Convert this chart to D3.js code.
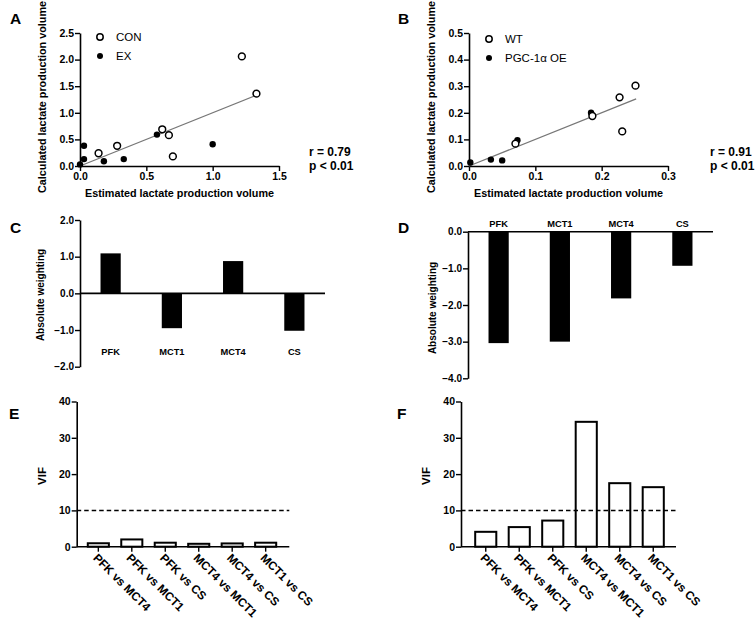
<!DOCTYPE html>
<html>
<head>
<meta charset="utf-8">
<script src="https://cdn.jsdelivr.net/npm/d3@7"></script>
<style>
  body { margin: 0; background: #fff; }
  svg { display: block; font-family: "Liberation Sans", Arial, sans-serif; }
  text { fill: #000; }
</style>
</head>
<body>
<svg id="fig" width="756" height="621"></svg>
<script>
// ---------- DATA ----------
// Panel A
const conA_x = [0.14, 0.28, 0.62, 0.67, 0.70, 1.22, 1.33];
const conA_y = [0.24, 0.38, 0.69, 0.58, 0.18, 2.06, 1.36];
const exA_x  = [0.00, 0.03, 0.03, 0.18, 0.33, 0.58, 1.00];
const exA_y  = [0.03, 0.38, 0.13, 0.09, 0.13, 0.59, 0.41];
const fitA_x = [0.0, 1.33];
const fitA_y = [0.0, 1.33];
const xTicksA = [0, 0.5, 1.0, 1.5];
const yTicksA = [0, 0.5, 1.0, 1.5, 2.0, 2.5];
// Panel B
const wtB_x  = [0.070, 0.186, 0.227, 0.231, 0.251];
const wtB_y  = [0.084, 0.188, 0.258, 0.130, 0.302];
const oeB_x  = [0.002, 0.033, 0.050, 0.073, 0.184];
const oeB_y  = [0.013, 0.024, 0.021, 0.097, 0.200];
const fitB_x = [0.0, 0.252];
const fitB_y = [0.0, 0.252];
const xTicksB = [0, 0.1, 0.2, 0.3];
const yTicksB = [0, 0.1, 0.2, 0.3, 0.4, 0.5];
// Panels C & D
const genes = ["PFK", "MCT1", "MCT4", "CS"];
const weightC = [1.09, -0.95, 0.88, -1.02];
const weightD = [-3.04, -3.00, -1.82, -0.93];
const yTicksC = [-2, -1, 0, 1, 2];
const yTicksD = [-4, -3, -2, -1, 0];
// Panels E & F
const pairs = ["PFK vs MCT4", "PFK vs MCT1", "PFK vs CS", "MCT4 vs MCT1", "MCT4 vs CS", "MCT1 vs CS"];
const vifE = [0.95, 2.0, 1.1, 0.8, 0.9, 1.1];
const vifF = [4.1, 5.4, 7.2, 34.4, 17.5, 16.4];
const yTicksEF = [0, 10, 20, 30, 40];
const vifThreshold = 10;

// ---------- DRAW ----------
const svg = d3.select("#fig");
const TICK_FONT = 10.5;
const TITLE_FONT = 10.8;

function letter(x, y, t) {
  svg.append("text").attr("x", x).attr("y", y).attr("font-size", 15.5)
    .attr("font-weight", "bold").text(t);
}

function styleAxis(g, fs) {
  g.selectAll("path.domain").attr("stroke", "#000").attr("stroke-width", 1.6);
  g.selectAll(".tick line").attr("stroke", "#000").attr("stroke-width", 1.4);
  g.selectAll(".tick text").attr("font-size", fs || TICK_FONT).attr("font-weight", "bold")
    .attr("font-family", "Liberation Sans, Arial, sans-serif").attr("fill", "#000");
}

function scatterPanel(cfg) {
  const x = d3.scaleLinear().domain(cfg.xdom).range([cfg.x0, cfg.x1]);
  const y = d3.scaleLinear().domain(cfg.ydom).range([cfg.y0, cfg.y1]);
  const gx = svg.append("g").attr("transform", `translate(0,${cfg.y0})`)
    .call(d3.axisBottom(x).tickValues(cfg.xt).tickFormat(cfg.xf).tickSize(5).tickSizeOuter(0).tickPadding(2));
  styleAxis(gx);
  const gy = svg.append("g").attr("transform", `translate(${cfg.x0},0)`)
    .call(d3.axisLeft(y).tickValues(cfg.yt).tickFormat(cfg.yf).tickSize(5).tickSizeOuter(0).tickPadding(1));
  styleAxis(gy);
  // fit line
  svg.append("line")
    .attr("x1", x(cfg.fitx[0])).attr("y1", y(cfg.fity[0]))
    .attr("x2", x(cfg.fitx[1])).attr("y2", y(cfg.fity[1]))
    .attr("stroke", "#777").attr("stroke-width", 1.3);
  // filled points
  cfg.fx.forEach((v, i) => {
    svg.append("circle").attr("cx", x(v)).attr("cy", y(cfg.fy[i])).attr("r", 3.2).attr("fill", "#000");
  });
  cfg.ox.forEach((v, i) => {
    svg.append("circle").attr("cx", x(v)).attr("cy", y(cfg.oy[i])).attr("r", 3.4)
      .attr("fill", "#fff").attr("stroke", "#000").attr("stroke-width", 1.5);
  });
  // legend
  const lx = cfg.x0 + 20;
  svg.append("circle").attr("cx", lx).attr("cy", cfg.legY).attr("r", 3.2)
    .attr("fill", "#fff").attr("stroke", "#000").attr("stroke-width", 1.5);
  svg.append("text").attr("x", lx + 16).attr("y", cfg.legY + 4).attr("font-size", 11.5).text(cfg.leg[0]);
  svg.append("circle").attr("cx", lx).attr("cy", cfg.legY + 19).attr("r", 3)
    .attr("fill", "#000");
  svg.append("text").attr("x", lx + 16).attr("y", cfg.legY + 23).attr("font-size", 11.5).text(cfg.leg[1]);
  // titles
  svg.append("text").attr("x", (cfg.x0 + cfg.x1) / 2).attr("y", cfg.y0 + 31)
    .attr("text-anchor", "middle").attr("font-size", TITLE_FONT).attr("font-weight", "bold")
    .text("Estimated lactate production volume");
  svg.append("text").attr("transform", `translate(${cfg.x0 - 34},${cfg.ytCy}) rotate(-90)`)
    .attr("text-anchor", "middle").attr("font-size", TITLE_FONT).attr("font-weight", "bold")
    .text("Calculated lactate production volume");
  // stats
  svg.append("text").attr("x", cfg.statX).attr("y", cfg.y0 - 10).attr("font-size", 12)
    .attr("font-weight", "bold").text(cfg.stats[0]);
  svg.append("text").attr("x", cfg.statX).attr("y", cfg.y0 + 4).attr("font-size", 12)
    .attr("font-weight", "bold").text(cfg.stats[1]);
}

letter(10, 24, "A");
scatterPanel({
  x0: 80, x1: 279, y0: 166, y1: 33, xdom: [0, 1.5], ydom: [0, 2.5],
  xt: xTicksA, yt: yTicksA, xf: d3.format(".1f"), yf: d3.format(".1f"),
  fitx: fitA_x, fity: fitA_y, ox: conA_x, oy: conA_y, fx: exA_x, fy: exA_y,
  leg: ["CON", "EX"], legY: 37, ytCy: 97, statX: 309,
  stats: ["r = 0.79", "p < 0.01"]
});

letter(398, 24, "B");
scatterPanel({
  x0: 469, x1: 668, y0: 166, y1: 33, xdom: [0, 0.3], ydom: [0, 0.5],
  xt: xTicksB, yt: yTicksB, xf: d3.format(".1f"), yf: d3.format(".1f"),
  fitx: fitB_x, fity: fitB_y, ox: wtB_x, oy: wtB_y, fx: oeB_x, fy: oeB_y,
  leg: ["WT", "PGC-1\u03b1 OE"], legY: 39, ytCy: 97, statX: 710,
  stats: ["r = 0.91", "p < 0.01"]
});

// ---------- Weighting bar panels ----------
function weightPanel(cfg) {
  const x = d3.scaleBand().domain(genes).range([cfg.x0, cfg.x1]).paddingInner(0.67).paddingOuter(0.335);
  const y = d3.scaleLinear().domain(cfg.ydom).range([cfg.yBot, cfg.yTop]);
  svg.append("g").selectAll("rect").data(cfg.vals).join("rect")
    .attr("x", (d, i) => x(genes[i]))
    .attr("width", x.bandwidth())
    .attr("y", d => Math.min(y(d), y(0)))
    .attr("height", d => Math.abs(y(d) - y(0)))
    .attr("fill", "#000");
  // zero line
  svg.append("line").attr("x1", cfg.x0).attr("x2", cfg.x1).attr("y1", y(0)).attr("y2", y(0))
    .attr("stroke", "#000").attr("stroke-width", 1.6);
  const gy = svg.append("g").attr("transform", `translate(${cfg.x0},0)`)
    .call(d3.axisLeft(y).tickValues(cfg.yt).tickFormat(d3.format(".1f")).tickSize(5).tickSizeOuter(0).tickPadding(1));
  styleAxis(gy, 10);
  genes.forEach(g => {
    svg.append("text").attr("x", x(g) + x.bandwidth() / 2).attr("y", cfg.labY)
      .attr("text-anchor", "middle").attr("font-size", 9.3).attr("font-weight", "bold").text(g);
  });
  svg.append("text").attr("transform", `translate(${cfg.titleX},${cfg.titleY}) rotate(-90)`)
    .attr("text-anchor", "middle").attr("font-size", 10).attr("font-weight", "bold")
    .text("Absolute weighting");
}

letter(10, 233, "C");
weightPanel({ x0: 80, x1: 325, yBot: 366.7, yTop: 220, ydom: [-2, 2], yt: yTicksC,
  vals: weightC, labY: 355, titleX: 44, titleY: 295 });

letter(398, 233, "D");
weightPanel({ x0: 468, x1: 713, yBot: 378.3, yTop: 231.7, ydom: [-4, 0], yt: yTicksD,
  vals: weightD, labY: 227, titleX: 436, titleY: 308 });

// ---------- VIF panels ----------
function vifPanel(cfg) {
  const x = d3.scaleBand().domain(pairs).range([cfg.b0, cfg.b1]).paddingInner(0.37).paddingOuter(0.185);
  const y = d3.scaleLinear().domain([0, 40]).range([546.7, 401.5]);
  svg.append("g").selectAll("rect").data(cfg.vals).join("rect")
    .attr("x", (d, i) => x(pairs[i]))
    .attr("width", x.bandwidth())
    .attr("y", d => y(d))
    .attr("height", d => y(0) - y(d))
    .attr("fill", "#fff").attr("stroke", "#000").attr("stroke-width", 2);
  // dashed threshold
  svg.append("line").attr("x1", cfg.x0).attr("x2", cfg.x1)
    .attr("y1", y(vifThreshold)).attr("y2", y(vifThreshold))
    .attr("stroke", "#000").attr("stroke-width", 1.5).attr("stroke-dasharray", "4.5,3");
  // baseline with ticks
  svg.append("line").attr("x1", cfg.x0).attr("x2", cfg.x1).attr("y1", y(0)).attr("y2", y(0))
    .attr("stroke", "#000").attr("stroke-width", 1.6);
  pairs.forEach(p => {
    const cx = x(p) + x.bandwidth() / 2;
    svg.append("line").attr("x1", cx).attr("x2", cx).attr("y1", y(0)).attr("y2", y(0) + 5)
      .attr("stroke", "#000").attr("stroke-width", 1.4);
    svg.append("text").attr("transform", `translate(${cx - 3},${y(0) + 9}) rotate(45)`)
      .attr("dy", "0.35em").attr("font-size", 11.8).attr("font-weight", "bold").text(p);
  });
  const gy = svg.append("g").attr("transform", `translate(${cfg.x0},0)`)
    .call(d3.axisLeft(y).tickValues(yTicksEF).tickFormat(d3.format("d")).tickSize(5).tickSizeOuter(0).tickPadding(1));
  styleAxis(gy, 10.5);
  svg.append("text").attr("transform", `translate(${cfg.x0 - 31},476) rotate(-90)`)
    .attr("text-anchor", "middle").attr("font-size", 11.5).attr("font-weight", "bold").text("VIF");
}

letter(9, 419, "E");
vifPanel({ x0: 76.7, x1: 289.3, b0: 81.6, b1: 282.4, vals: vifE });

letter(397, 419, "F");
vifPanel({ x0: 461, x1: 676, b0: 469, b1: 670, vals: vifF });
</script>
</body>
</html>
